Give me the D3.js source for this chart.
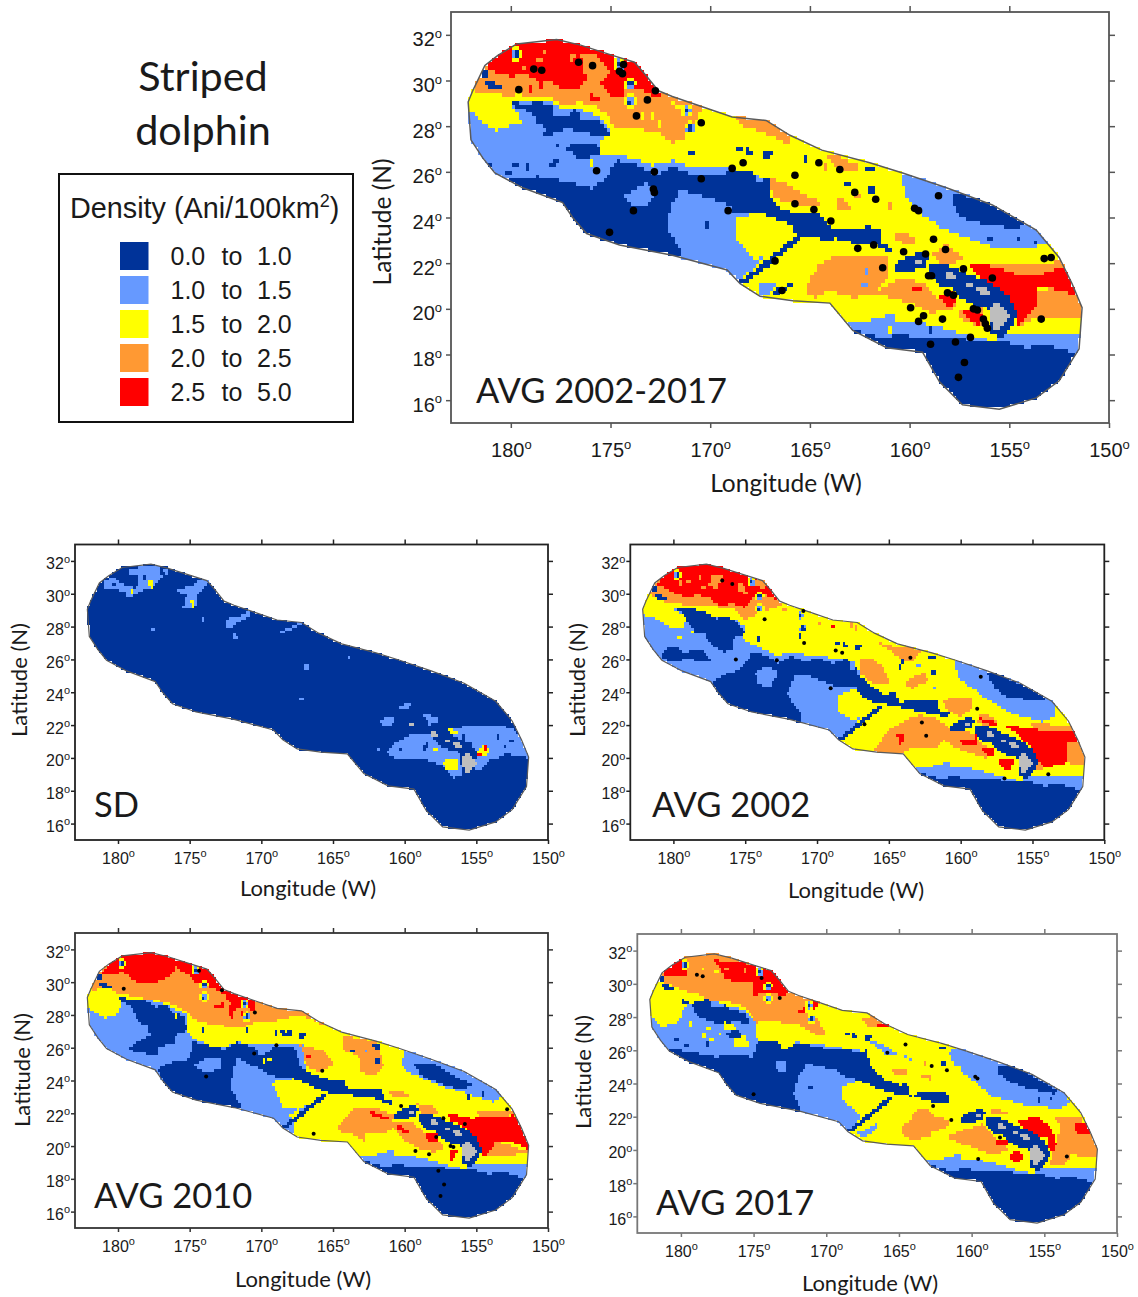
<!DOCTYPE html>
<html>
<head>
<meta charset="utf-8">
<title>Striped dolphin</title>
<script src="https://cdn.jsdelivr.net/npm/d3@7"></script>
<style>
  html, body { margin: 0; padding: 0; background: #fff; }
  svg { display: block; }
  text { fill: #1a1a1a; }
</style>
</head>
<body>
<svg id="chart" width="1138" height="1297"></svg>
<script>
// legend
const legendFrom = ["0.0", "1.0", "1.5", "2.0", "2.5"];
const legendTo = ["1.0", "1.5", "2.0", "2.5", "5.0"];
const classColors = ["#003399", "#6699ff", "#ffff00", "#ff9933", "#ff0000", "#bebebe"];
const DARK = 0, LIGHT = 1, YELLOW = 2, ORANGE = 3, RED = 4, GREY = 5;

const lonTicks = [180, 175, 170, 165, 160, 155, 150];
const latTicks = [32, 30, 28, 26, 24, 22, 20, 18, 16];

// survey area outline, [lon W, lat N]
const studyArea = [[182.14,29.06],[181.9,29.57],[181.3,30.66],[180.65,31.1],[179.7,31.6],[177.7,31.8],[176.5,31.55],[174.9,31.1],[173.8,30.8],[173.2,30.2],[172.6,29.55],[171.9,29.3],[170.4,28.85],[168.9,28.4],[167.2,28.25],[166,27.6],[164.4,26.95],[162,26.4],[160.35,25.95],[158.15,25.3],[155.85,24.55],[153.65,23.45],[152.5,22.25],[151.85,21.1],[151.35,20.05],[151.5,18.25],[152.5,16.85],[153.65,16.1],[155.5,15.6],[157.35,15.8],[158.5,16.8],[159.35,18.1],[161.15,18.3],[162.85,19.05],[164,20.25],[165.85,20.35],[167.5,20.55],[168.5,21.1],[169.15,21.7],[171.9,22.35],[174.55,22.8],[176.2,23.3],[176.9,24],[177.4,24.65],[179.4,25.3],[180.8,25.95],[181.4,26.6],[182,27.4]];

// islands
const islands = [
  [[159.7,22.1],[159.3,22.2],[159.3,21.9],[159.65,21.9]],
  [[158.2,21.6],[157.8,21.6],[157.7,21.3],[158.05,21.25]],
  [[157.3,21.15],[156.8,21.15],[156.8,21],[157.2,21]],
  [[156.75,20.9],[156.3,21],[156,20.7],[156.5,20.65]],
  [[156,20],[155.55,20.3],[154.9,19.7],[155.55,19.15],[155.7,19],[155.9,19.45]]
];

// zones the four mean maps have in common
const southLight = [[163.35,19.5],[162,19.5],[160.8,19.8],[160.65,19.5],[159.65,19.45],[158.5,19.2],[157.65,19],[156.8,18.75],[155.8,18.6],[155.3,18.85],[154.3,18.9],[153,18.9],[150.8,18.9],[150.8,16.7],[163.35,16.7]];
const southDark = [[163,19.2],[162.5,19],[161.35,18.75],[160.5,18.9],[159.15,18.7],[157.65,18.75],[156.8,18.6],[155.45,18.6],[154.15,18.3],[152.95,18.4],[151.95,18.1],[150.8,18.2],[150.8,15],[161,15],[163,17.9]];
const channelDark = [[159,22],[158.3,22],[157.15,21.55],[155.8,21.05],[155.05,20.6],[154.55,19.7],[155.3,18.75],[156,18.9],[156.05,20],[156.8,20.2],[157.4,20.45],[157.8,20.9],[158.5,20.9],[159,21.55]];
const kauaiDark = [[160.8,21.85],[160.15,22.3],[159.3,22.5],[159,22.3],[159.25,21.85],[159.9,21.65],[160.5,21.55]];
const diagonalDark = [[168.5,21.2],[165.6,23.25],[165.35,23.12],[168.2,21.1]];
const seamounts = [[179.7,31.15],[174.55,30.7],[174,29.85],[174,29.1],[171.15,28.7],[171,27.9]];
const darkPatches = [
  [[181.3,29.9],[180.8,29.95],[180.45,29.65],[181,29.55]],
  [[181.45,30.45],[181.2,30.45],[181.2,30.2],[181.45,30.2]],
  [[168.75,27.05],[168.4,27.1],[168.4,26.85],[168.75,26.85]],
  [[168.2,27],[167.8,26.95],[167.8,26.75],[168.2,26.75]],
  [[167.5,26.9],[166.8,26.95],[167,26.6],[167.3,26.6]],
  [[162.3,26.3],[161.7,26.1],[162,26],[162.3,26.15]],
  [[162.1,25.35],[161.7,25.3],[161.7,25],[162.1,25.05]]
];

// AVG 2002-2017
const avgLight = [
  [[182.5,28.9],[181.9,28.6],[181.4,28.1],[180.7,27.8],[180,28.05],[179.5,28.1],[179.55,28.55],[180.05,29],[179.55,29.05],[178.2,29.15],[177.55,28.85],[176.55,28.75],[175.7,28.45],[175.05,27.95],[174.9,27.6],[175.6,27.4],[175.4,26.65],[174.55,26.75],[173.55,26.5],[172.9,26.3],[171.9,26.5],[171,26.2],[169.55,26.15],[168.9,26.2],[167.5,25.8],[167.25,25.05],[167.5,24.15],[168.8,24],[168.8,23.15],[167.7,22.1],[167.1,22.4],[168.55,21.2],[168.9,20.7],[170,20],[184,20]],
  [[167.6,21],[166.9,21.2],[166.6,21],[167.4,20.5]],
  [[160.4,25.85],[160.25,25.05],[159.5,24.2],[158.5,23.6],[157.15,23.1],[155.8,22.7],[154.15,22.65],[153.15,22.8],[152.8,24],[155.8,26.05],[159.65,26.65]]
];
const avgDark = [
  [[179.9,29.05],[179.2,29],[178.55,29.05],[177.95,28.85],[177.9,28.5],[177.05,28.5],[176.85,28.75],[176.45,28.6],[176.5,28.3],[176.2,28.25],[175.6,28.25],[175.2,27.9],[174.9,27.6],[175.35,27.5],[176.2,27.7],[177.2,27.9],[177.8,27.75],[178.05,27.5],[178.55,27.6],[178.2,27.9],[178.8,28.25],[178.9,28.6],[179.65,28.75]],
  [[177.45,27],[176.55,27.3],[176.1,27.25],[175.7,27.25],[175.35,26.65],[175.8,26.7],[176.2,26.55],[176.7,26.6],[176.95,26.95]],
  [[180.65,25.8],[179.9,25.75],[178.7,25.8],[177.9,25.7],[177.2,25.55],[175.9,25.25],[175.2,25.8],[174.7,26.5],[173.55,26.3],[172.7,25.85],[171.9,26.3],[171,25.9],[170,25.85],[168.9,26],[167.85,26.05],[167.5,25.2],[167.4,25.85],[167.1,25.65],[167.1,25],[166.5,24.4],[165.3,24.1],[164.5,24.2],[164.1,23.65],[163.75,23.45],[162.85,23.45],[162,23.65],[161.5,23.45],[161.35,22.8],[160.75,22.6],[161.15,22.5],[161.8,22.8],[162.5,22.8],[163.65,23.1],[164,23.05],[165,23.1],[165.6,23.2],[166,23.7],[167.2,24.1],[168.8,24.1],[169,24.5],[170.2,24.9],[171.5,25.2],[171.95,24.5],[172.2,23.6],[171.5,22.6],[171.5,21.5],[175,21.5],[182,24],[181.2,25.75]],
  [[158,25.1],[157.3,25],[155.8,24.55],[154.15,23.75],[154.65,23.5],[155.8,23.65],[156.85,23.8],[157.65,24.2],[157.8,24.75]],
  [[166.9,20.75],[165.9,21.15],[165.9,21],[166.8,20.55]]
];
const avgLightOnDark = [[[174.3,25.0],[173.7,25.2],[173.2,25.6],[172.7,25],[173.2,24.5],[173.9,24.55]]];
const avgOrange = [
  [[182.05,29.55],[181.05,29.5],[180.1,29.3],[179.55,29.4],[178.9,29.2],[178.05,29.3],[177.4,28.9],[176.55,29.05],[175.7,28.85],[175.05,28.4],[174.8,27.9],[173.85,27.9],[172.7,27.75],[171.85,27.3],[171.45,27.4],[170.85,27.9],[170.6,28.5],[170.35,28.85],[170.2,29.2],[170.2,32],[182,32]],
  [[168.8,28.5],[168.45,28],[167.5,27.8],[166,27.2],[166,27.75],[167.1,28.4],[168.8,28.6]],
  [[164.15,26.7],[163.9,26.35],[163.3,26],[162.3,26.2],[163.15,26.5],[164,26.85]],
  [[167.1,25.8],[166.35,25.5],[165.35,25.05],[164.5,24.7],[164.45,24.5],[165.35,24.55],[166.35,24.65],[166.85,24.95]],
  [[163.6,24.85],[163.2,24.75],[162.85,24.4],[163.35,24.3],[163.6,24.45]],
  [[161,23.2],[160.15,23.35],[159.8,23.15],[159.65,22.8],[160.3,22.85]],
  [[158.8,22.4],[158.2,22.8],[157.3,22.3],[157.6,22.05],[158.45,22]],
  [[165.1,21],[164.65,21.85],[163.65,22.4],[162.5,22.25],[161.1,22.25],[161,21.3],[161.35,21.1],[161.8,20.65],[162.85,20.5],[164,20.8],[164.65,20.5],[165.1,20.6]],
  [[161.8,20.65],[160.5,21.3],[159.35,21.15],[158.6,20.5],[157.5,20.15],[158,19.95],[159,19.8],[159.8,20.2],[160.85,20.5]],
  [[153.5,20.8],[152,21],[150.95,20.1],[150.95,19.6],[152.5,19.6],[153.5,19.65],[154.3,19.35],[154.65,19.2]],
  [[156.8,22.05],[154.45,21.9],[153.3,21.9],[152.35,22.15],[152,21.35],[153.3,21.15]],
  [[157.55,19.9],[156.3,20.1],[156.3,19.25],[157.3,19.4]]
];
const avgRed = [
  [[181.15,30.45],[180.05,30.2],[179.2,30.25],[178.55,29.95],[178.15,30],[177.55,29.65],[176.55,29.65],[176.2,30],[175.35,29.85],[175,29.2],[174.8,29.35],[174.3,29.35],[174.3,30],[173.7,29.65],[172.85,29.35],[172.4,29.35],[172.3,30.6],[173.5,32.05],[180.2,32.2],[181.4,31.3]],
  [[157,21.9],[156,21.9],[154.8,21.55],[153.65,21.4],[152.4,21.8],[151.9,21.35],[151.6,20.6],[152.4,20.75],[153.5,21.05],[153.55,20.25],[154.1,19.75],[154.45,19.2],[155,19.95],[155,20.5],[155.85,21.1],[156.65,21.5]],
  [[158.5,20.65],[157.9,20.7],[157.5,20.45],[157.85,20.15],[158.35,20.2]],
  [[157.3,19.85],[156.8,20.05],[156.35,19.7],[156.55,19.3],[156.95,19.5]],
  [[159.95,21],[159.4,21],[159.2,20.9],[159.7,20.75]]
];
const avgOrangeOnRed = [[[176.5,31.2],[175.7,31.1],[175,30.45],[175.35,29.95],[176.2,30]]];
const avgDots = [[179.6,29.6],[178.85,30.5],[178.45,30.45],[176.6,30.8],[175.9,30.65],[174.35,30.7],[174.55,30.4],[174.4,30.3],[172.75,29.55],[173.15,29.15],[173.7,28.45],[170.45,28.15],[175.7,26.05],[172.8,26],[172.85,25.25],[172.8,25.1],[173.85,24.3],[175.05,23.35],[170.45,25.7],[168.9,26.15],[168.35,26.4],[169.1,24.3],[166.75,22.1],[166.4,20.8],[164.55,26.4],[163.5,26.1],[165.75,25.85],[162.75,25.1],[161.7,24.8],[158.55,24.95],[159.75,24.4],[159.55,24.3],[165.75,24.6],[164.8,24.35],[163.95,23.85],[158.8,23.05],[162.6,22.65],[161.8,22.8],[160.3,22.5],[159.2,22.4],[158.2,22.6],[161.35,21.8],[157.3,21.75],[159.05,21.45],[158.9,21.45],[153.25,22.2],[152.9,22.25],[155.85,21.35],[158.1,20.7],[157.8,20.6],[159.95,20.05],[156.8,20],[156.6,19.95],[159.3,19.7],[159.55,19.45],[158.35,19.55],[153.4,19.55],[156.3,19.55],[156.2,19.35],[156.1,19.15],[156.95,18.75],[157.7,18.55],[158.95,18.45],[157.25,17.65],[157.55,17]];
// single cells, [lon, lat, class]
const avgSpecks = [[172.85,28.4,YELLOW],[171.85,29,YELLOW],[171.6,28.85,YELLOW],[173.4,28.4,YELLOW],[172.5,28.1,YELLOW],[178.55,30.9,ORANGE],[176.9,31,ORANGE],[178.3,31.25,ORANGE],[179.3,30.6,ORANGE],[175.65,29.2,RED],[175.95,29.3,RED],[178.55,29.8,RED],[177.6,29.85,RED],[179,29.6,RED],[181,26.35,DARK],[179.8,26.3,DARK],[179.2,26.2,DARK],[177.9,26.35,DARK],[177.7,26.5,DARK],[180.1,25.95,DARK],[177.65,27.15,DARK],[170.95,26.85,DARK],[170.2,23.65,DARK],[175.9,26.4,YELLOW],[164.2,26.2,ORANGE],[165.2,26.6,DARK],[163.1,25.5,DARK],[162.6,24.9,ORANGE],[161,24.5,ORANGE],[160,26,DARK],[162.2,21.6,LIGHT],[162.3,21,LIGHT],[154.5,23.1,DARK],[156,23.1,DARK],[153.7,22.9,DARK],[159,19.1,DARK],[161,19.1,YELLOW]];

// AVG 2002
const y02Light = [
  [[183,28.9],[181.15,28.5],[180.25,27.95],[179.3,28],[179.05,28.6],[180,29.1],[178.7,29.1],[177.2,28.6],[175.7,28.4],[175,28],[175.2,27.2],[174.5,26.95],[172.8,26.25],[171.85,26.45],[170.5,26.25],[168.85,26.1],[167.45,25.9],[167,25.1],[167,24.3],[168.6,23.8],[168.6,22.9],[167.45,22.25],[166.8,22.6],[168.4,21.15],[168.6,20.9],[170,20],[184,20]],
  [[160.4,25.85],[160.2,24.85],[159.15,24.25],[158,23.45],[156.1,22.6],[154.25,22.2],[153.35,22.6],[153.55,23.55],[157.5,26.2],[160.3,26.6]]
];
const y02Dark = [
  [[179.8,29.1],[178.7,29.1],[178,28.95],[177,28.5],[176.3,28.65],[175.6,28.25],[175,27.75],[175.35,27.4],[175.8,27.3],[175.8,26.7],[176.5,26.4],[177.4,26.95],[177.8,27.55],[178.5,27.6],[178.85,28.15],[179.3,28.7]],
  [[180.9,26.2],[180.4,26.75],[179.8,26.75],[179.2,26.35],[178.85,26.55],[177.9,26.55],[177.45,25.95],[178.15,25.85],[179.1,26.15],[179.55,25.85],[180.25,25.85]],
  [[177.3,24.6],[176.3,25.15],[175.6,25.3],[174.9,25.9],[174.55,26.45],[173.5,26.25],[172.65,25.75],[171.85,26.25],[170.95,25.9],[169.75,26.05],[168.85,25.75],[167.9,26.1],[167.5,25.05],[167.35,25.95],[167.15,25.05],[166.1,24.3],[165.3,23.85],[164.6,24.05],[164.1,23.15],[163.9,23.55],[161.7,23.55],[161.45,22.85],[160.75,22.75],[161,22.5],[161.7,22.6],[162.85,22.8],[163.9,23.05],[165.2,23.25],[166.1,23.4],[167.15,23.95],[167.2,24.3],[168.85,24.4],[170.45,24.95],[171.5,25],[172.1,23.9],[171.15,22.7],[170.9,21],[172,20],[176,22.5]],
  [[158.2,25.35],[157.3,25.05],[155.2,24.25],[153.8,23.45],[154.7,23.45],[156.8,23.75],[157.6,24.25],[158,24.85]]
];
const y02LightOnDark = [[[174.3,25.15],[173.5,25.65],[172.65,25.25],[173.25,24.3],[174.05,24.5]]];
const y02Orange = [
  [[181.6,29.9],[180.45,29.5],[178.85,29.3],[177.45,29.25],[175.8,29.1],[175,28.4],[173.95,28.9],[173,29.1],[172.3,29.4],[172,32],[182,32],[182,30]],
  [[167,26.05],[166.2,26.05],[165.3,25.45],[164.95,24.55],[166,24.45],[167.05,25.15]],
  [[165.9,27.1],[164.7,26.8],[163.55,26.7],[162.75,26.5],[163.55,25.8],[164.6,26.3]],
  [[163.65,24.85],[162.4,25.25],[162.3,24.65],[163.35,24.25],[163.8,24.35]],
  [[161.25,23.45],[160.3,23.75],[159.15,23.65],[159.15,23.05],[160.05,22.5],[161,23]],
  [[158.65,22.7],[157.75,22.5],[157.4,22.1],[158.2,21.9],[158.8,22.2]],
  [[166.1,20.3],[165.05,21.7],[163.55,22.4],[162.75,22.6],[161.7,22.4],[160.9,22],[160.65,21.6],[159.4,21.6],[158.5,20.9],[157.6,20.2],[158.3,20],[159.45,20.3],[160.55,20.7],[161.1,21.1],[161.7,20.6],[163.35,20.7],[164.05,20.3]],
  [[154.7,21.3],[152.15,21.6],[151.35,20.1],[151.35,19.6],[152.85,19.7],[154,19.4],[154.7,19.2]],
  [[155.2,22.2],[152.15,21.9],[152.15,21.6],[154.7,21.7]]
];
const y02Red = [
  [[181.1,30.55],[180.25,30.2],[179.3,29.8],[178.25,29.9],[177.45,29.7],[176.85,29.3],[175.8,29.4],[175,29.1],[174.55,29.7],[173.5,29.9],[172.8,29.65],[172.65,30.8],[174.2,32],[180.2,32]],
  [[156.95,22],[155.3,21.8],[153.75,21.6],[151.9,21.7],[151.7,20.9],[152.5,21],[152.6,19.7],[154.25,19.4],[154.7,20],[155.15,20.7],[156.1,21.5]],
  [[164.4,21.4],[163.9,21.4],[164.15,20.6]],
  [[160.05,21.1],[159.1,21.2],[158.8,21.6],[158.9,20.8],[159.85,20.8]],
  [[158.55,20.7],[157.65,20.6],[157.65,20.1],[158.3,20.2]],
  [[157.4,19.9],[156.35,20],[156.45,19.2],[157.05,19.3]],
  [[158.65,22.4],[157.75,22.3],[157.5,22],[158.45,22.1]]
];
const y02OrangeOnRed = [[[177.3,31.2],[176.6,31.1],[176.9,30.3],[177.5,30.5]], [[175.6,30.7],[175,30.5],[174.9,30],[175.5,30.1]], [[174.2,31],[173.5,30.7],[173.7,30.2],[174.3,30.5]]];
const y02Dots = [[176.6,30.8],[175.9,30.6],[173.65,28.45],[170.95,28.95],[170.9,27],[168.25,26.4],[168.7,26.55],[175.65,26],[172.8,25.95],[169.05,24.25],[166.7,22.05],[163.5,26.1],[158.6,24.95],[158.85,23],[162.7,22.15],[162.4,21.35],[156.95,18.75],[153.9,19]];
const y02Specks = [[178.9,30.7,ORANGE],[178.2,31,ORANGE],[179.5,30.6,ORANGE],[177.9,30.4,ORANGE],[172.9,29,YELLOW],[171.6,28.9,YELLOW],[172.3,29,ORANGE],[169.8,28.2,ORANGE],[168.9,28,RED],[167.6,28.1,ORANGE],[167.3,27.9,ORANGE],[178.7,27.7,YELLOW],[179.6,27.3,YELLOW],[174.1,27.2,DARK],[170.9,27.8,DARK],[171.2,27.4,DARK],[164.2,25.5,DARK],[164,25.9,DARK],[162.9,25.6,LIGHT],[161.8,24.3,LIGHT]];

// AVG 2010
const y10Light = [
  [[183,28.9],[180.95,27.8],[180,28.05],[179.7,28.95],[178,29],[176.6,28.6],[175.2,28.05],[175.3,27.15],[174.75,26.55],[172.9,25.9],[171.75,26.35],[170.45,26.15],[169,26.25],[167.8,26.15],[167.1,26.15],[166.8,24.2],[168.95,24],[169.2,23.7],[168.45,22.35],[167.05,22.15],[166.65,22.55],[168,21.9],[167.7,21.5],[167.6,20.3],[171,20],[184,20]],
  [[160.3,25.05],[160.05,25.6],[160.3,26.6],[155,26],[153.15,23],[153.85,22.7],[155.7,23.2],[157.5,23.7],[158.9,24.2],[160.05,24.65]]
];
const y10Dark = [
  [[180,29.05],[178.95,29],[178,28.85],[177.3,28.45],[176.75,28.7],[176.15,28.15],[175.35,27.85],[175.2,27.05],[175.9,26.85],[176.15,26.2],[177.1,26.1],[177.3,25.5],[178.5,25.7],[179.3,25.9],[178.5,26.45],[177.8,26.75],[177.9,27.35],[178.6,27.55],[179.05,28.55],[179.65,28.75]],
  [[177.2,24.6],[176.6,25.1],[175.2,25.15],[174.85,25.8],[174.75,26.35],[172.9,26],[172.65,25.9],[171.75,26.35],[170.35,26],[170.1,25.4],[169,26.1],[167.8,26.1],[167.7,25.4],[167.55,26.1],[167.5,25.95],[167.4,24.9],[166.35,24.35],[165.2,24.05],[164.25,24.05],[163.9,23.5],[161.7,23.55],[161.35,22.8],[160.75,22.7],[161,22.5],[161.7,22.8],[162.6,23],[163.9,23.1],[165.2,23.2],[166.6,23.7],[167.75,24.1],[168.95,24.2],[169.9,24.6],[171.7,25.4],[172.2,23.55],[171.45,22.55],[171.45,21.4],[173,21],[176,22.5]],
  [[159.4,25],[158,25],[155.95,24],[155.2,23.8],[156.1,23.4],[157.05,23.7],[158.2,24],[158.9,24.35]]
];
const y10LightOnDark = [[[174.6,25],[173.8,25.4],[172.7,25.4],[172.8,24.7],[173.8,24.5],[174.6,24.8]]];
const y10Orange = [
  [[181.85,29.5],[180.6,29.6],[179.9,29.3],[178,29],[176.65,28.8],[175.25,28.25],[174.55,27.65],[173.15,27.35],[171.3,27.25],[170.45,27.55],[169,27.65],[167.2,28],[165.7,27.4],[165.5,28.5],[172,32],[182,32],[182,30]],
  [[167.3,26.15],[165.65,25.85],[164.85,25.05],[165.75,24.5],[166.7,24.7]],
  [[164.25,26.75],[161.95,26.35],[161.4,24.85],[162.2,24.25],[163.05,24.55],[163.2,25.45],[164.25,25.85]],
  [[161.25,23.3],[160.55,23.4],[159.5,23.1],[160.55,22.9]],
  [[159.15,22.6],[158,22.4],[157.7,22],[158.85,22]],
  [[164.85,20.9],[163.55,22.3],[161.9,22.3],[160.75,21.9],[160.9,21.4],[159.4,21.4],[158.45,20.7],[157.15,19.95],[157.85,19.65],[158.9,19.75],[160.1,20.4],[160.75,21.1],[161.45,20.8],[162.65,20.8],[162.85,20.3],[163.8,20.8]],
  [[154.7,19.4],[153.6,20.3],[151.35,19.65],[152.6,19.45]],
  [[155,22.1],[152.5,22.2],[152.3,21.9],[154.7,21.8]]
];
const y10Red = [
  [[181.25,30.4],[179.65,30.6],[178.6,29.9],[177.3,30],[176.5,30.3],[175.95,30.9],[175.25,30.5],[174.55,30],[173.6,29.7],[172.65,29.3],[172.2,28.7],[172.4,28.1],[172,27.8],[171.85,28.35],[171.3,28.55],[170.35,28.2],[170.4,29],[172,32],[180,32]],
  [[173.3,28.6],[172.7,28.7],[172.7,28.45],[173.3,28.35]],
  [[156.95,22],[155.45,21.7],[153.6,21.8],[152.4,21.9],[151.6,20.9],[151.3,19.75],[152.65,20.3],[153.6,20.3],[154,19.75],[154.5,19.35],[155,20.4],[155.6,21],[156.85,21.6]],
  [[162.5,22.2],[161,21.7],[161.5,21.6],[162.3,21.9]],
  [[160.4,21.3],[159.6,20.8],[160.1,20.8],[160.6,21.1]],
  [[158.5,20.7],[157.6,20.8],[157.7,20.3],[158.4,20.3]],
  [[156.9,19.75],[156.3,19.85],[156.6,19.1],[156.85,19.1]]
];
const y10Dots = [[179.6,29.6],[174.35,30.7],[172.75,29.5],[170.45,28.15],[168.95,26.15],[170.5,25.65],[173.85,24.25],[165.75,24.6],[166.35,20.75],[160.25,22.45],[157.3,21.7],[155.8,21.35],[152.85,22.25],[157.8,20.55],[156.8,20],[156.6,19.95],[159.25,19.7],[158.3,19.5],[157.65,18.5],[157.25,17.65],[157.5,16.95]];
const y10Specks = [[172.6,29.2,ORANGE],[171.3,28.1,RED],[169.4,25.3,YELLOW],[169.8,25.2,YELLOW],[166.7,25.4,RED],[178,29.1,ORANGE],[175.9,27.9,YELLOW],[174.1,27.1,DARK],[171,27.05,DARK],[169,26.9,DARK],[168.4,26.8,DARK],[167.9,26.9,DARK],[163.6,25.8,DARK],[162.7,25.8,LIGHT],[161.9,26,DARK],[158,25,DARK],[154.5,23.2,DARK],[155.5,23,DARK]];

// AVG 2017
const y17Light = [
  [[184,28.3],[182,28],[181.35,27.4],[180.05,27.7],[180,28.2],[179.6,28.7],[178,29.1],[176.9,28.7],[175.5,28.4],[174.8,27.7],[174.8,26.9],[174.6,26.4],[172.95,26],[172,26.5],[169.95,26.3],[167.2,25.9],[167.05,24.4],[168.9,23.8],[168.9,23],[168,22.4],[167.6,22],[168.2,21.2],[168.4,20.9],[170,20],[184,20]],
  [[161.55,25.9],[161.1,25],[159.9,24.2],[158.55,23.2],[156.3,22.7],[154,22.5],[153.25,22.8],[153.7,23.6],[157.6,25.6],[160.3,26.6]],
  [[167.35,26.6],[166.1,26.4],[165.2,25.8],[163.8,25.3],[164.7,25.7],[165.85,25.7],[166.8,26.4]],
  [[167.9,21],[167.2,21.3],[166.5,21.6],[166.6,21.2],[167.5,20.7]]
];
const y17Dark = [
  [[180,29.1],[179.4,28.8],[178,29.1],[177.9,28.6],[176.9,28.7],[176.65,28.4],[175.5,28.3],[175.4,27.6],[176.2,27.7],[177.55,27.55],[178.1,27.8],[178.8,28],[179.25,28.7],[179.85,28.8]],
  [[177,27.05],[176.2,27.25],[175.75,26.8],[176.65,26.7]],
  [[180.75,26.1],[179.85,25.95],[177.55,25.6],[176.65,25.7],[175,25.6],[174.7,26.5],[173.4,26.5],[172.95,26],[172,26.45],[170,26.1],[168.9,26.05],[167.4,25.85],[167.35,26.2],[166.9,25],[166.1,24.3],[164.85,23.9],[164.5,24.1],[164.15,23.1],[163.8,23.5],[161.75,23.5],[161.5,22.8],[162.45,22.8],[163.95,23.2],[165.2,23.4],[166.55,23.7],[167.7,24.2],[169,24.5],[169.3,24.8],[171.3,25.2],[171.9,24.4],[172.25,23.4],[171.8,22.6],[171.8,21.2],[174,21],[177,22],[181.5,25],[181.5,26]],
  [[158.25,25.1],[157.1,25.1],[155.35,24.2],[154,23.5],[154.4,23.4],[156.2,23.7],[157.55,24.2],[158.1,24.6]]
];
const y17LightOnDark = [[[173.55,25.3],[172.8,25.35],[172.8,24.75],[173.35,24.75]]];
const y17Yellow = [
  [[177.1,27.7],[176.4,27.6],[176.2,27.25],[177.1,27.2]],
  [[176.4,26.7],[175.5,26.9],[175.4,26.3],[176.4,26.2]]
];
const y17Orange = [
  [[181.45,30.2],[180.75,29.9],[179.85,29.6],[178.9,29.4],[178,29],[176.65,28.9],[175.5,28.55],[174.8,27.65],[173.9,27.75],[171.85,27.5],[170.4,26.8],[170,27],[170.6,27.85],[171.55,28.3],[170.5,28.8],[170.4,29.5],[172,32],[182,32],[182,30.5]],
  [[167.55,27.8],[166.55,28.2],[165.65,27.5],[167,27.4]],
  [[165.5,24.8],[164.6,24.9],[164.4,24.5],[165.2,24.5]],
  [[163.45,24.6],[162.65,24.5],[162.85,24.25],[163.45,24.35]],
  [[164.85,21.3],[164.25,21.8],[163.8,22.4],[162.9,22.4],[162.55,22],[161.5,21.8],[161.75,21.3],[162.65,21.1],[162.9,20.8],[164,20.6],[164.7,20.8]],
  [[161.8,20.8],[160.9,21.1],[159.2,21.6],[158.5,20.8],[157.5,20],[158.5,19.7],[159.45,20],[160.8,20.4]],
  [[158.65,22.5],[157.5,22.3],[157.5,22.1],[158.6,22.1]],
  [[154.7,19],[154.15,20.4],[153.9,21.4],[154.35,22],[152.5,22],[151.6,20.6],[151.3,20],[151.4,19.6],[153.2,19.7],[153.45,19.2]]
];
const y17Red = [
  [[181.3,30.75],[180.05,31.45],[179.75,31.3],[179.5,30.6],[180.3,30.4],[181,30.5]],
  [[177.75,31.5],[176.85,31.3],[174.85,31.2],[173.9,30.9],[172.5,29.5],[172.95,29.3],[174.05,29.5],[175,29.3],[175.1,30.1],[176.15,30.1],[177.05,30.4],[177.45,31.2]],
  [[171.95,28.3],[171.3,28.75],[170.5,29],[170.75,28.5],[171.55,28.3]],
  [[166.5,27.55],[165.65,27.6],[165.65,27.4],[166.5,27.4]],
  [[156.9,21.7],[155.55,22],[154.85,21.6],[154.4,21.1],[154.15,20.4],[154.35,19.9],[154.7,20.1],[154.85,20.7],[156.2,21.1]],
  [[152.9,21.6],[152,21.6],[151.9,21],[152.8,20.9]],
  [[158.5,20.5],[157.55,20.7],[157.5,20.3],[158.25,20.2]],
  [[157.35,19.8],[156.8,20],[156.35,19.6],[156.8,19.1],[157.25,19.4]]
];
const y17Dots = [[178.9,30.55],[178.5,30.45],[174.45,30.35],[173.2,29.15],[175,23.35],[164.55,26.35],[165.8,25.85],[162.75,25.05],[161.7,24.8],[159.75,24.4],[159.6,24.3],[162.65,22.65],[161.4,21.8],[158.05,20.75],[159.55,19.45],[153.45,19.6]];
const y17Specks = [[179.3,27.6,YELLOW],[178.1,27.3,YELLOW],[178.4,26.9,YELLOW],[177.9,26.7,YELLOW],[177.3,27,YELLOW],[178.2,26.4,DARK],[180.3,26.6,DARK],[179.6,26.3,DARK],[175.8,24.4,DARK],[171.1,23.8,DARK],[178.5,30.9,YELLOW],[177.6,30.7,YELLOW],[176.9,30.9,ORANGE],[175.6,30.8,ORANGE],[163.2,25.2,ORANGE],[161.3,25,YELLOW],[160.9,24.9,YELLOW],[154.5,23.1,DARK],[155.4,23,DARK]];

// SD
const sdLight = [
  [[181,30.8],[180.3,31],[179.6,30.55],[178.9,30.45],[179.3,30.1],[180.1,30.25],[180.9,30.35]],
  [[179.3,31.5],[178.3,31.6],[177.7,31.75],[176.4,31.35],[177,31],[177.6,30.4],[178.3,30.2],[179.3,29.7],[179.5,29.95],[178.5,30.6],[178.7,31.2],[179.3,31.2]],
  [[175.9,30.3],[174.9,30.45],[174,31],[173.7,30.7],[174.4,30],[174.6,29.3],[175,29.1],[175.5,29.1],[175.2,29.9],[175.9,30.15]],
  [[172.5,28.5],[171.6,28.6],[170.9,28.95],[170.7,28.7],[171.5,28.3],[172.2,27.9],[172.5,28]],
  [[168.7,27.65],[167.5,28.2],[167.1,28.25],[168.1,27.75],[168.7,27.55]],
  [[161.3,20.25],[160.4,21.1],[159.3,21.5],[158.1,21.4],[157.6,20.7],[156.2,20.3],[155.9,19],[156.6,18.8],[157.3,19.5],[158.3,19.85],[160.4,19.85]],
  [[156.9,21.8],[155.9,21.9],[153.5,22.05],[152.3,21.7],[151.6,20.7],[151.3,20],[152.3,20.05],[153,20.35],[153.3,20.05],[154,19.9],[154.7,19.25],[155.3,19.4],[154.9,20.2],[155.4,20.9],[156.3,21.2],[156.9,21.5]],
  [[161.9,22.3],[160.7,22.5],[160.9,21.9],[161.5,21.9]],
  [[158.7,22.7],[157.4,22.3],[158.3,22]],
  [[160.5,23.2],[159.5,23.3],[159.5,23.1],[160.4,23]]
];
const sdYellow = [
  [[157.3,19.8],[156.4,20],[156.3,19.3],[156.8,19.15],[157.2,19.4]],
  [[155,20.4],[154.3,20.9],[154,20.25],[154.9,20.05]]
];
// [lon, lat, class]
const sdSpecks = [[158.4,20.8,DARK],[158.6,20.6,DARK],[155.9,21.3,DARK],[153.5,21.3,DARK],[152.6,21,DARK],[153,20.7,DARK],[179.3,30.9,DARK],[178.2,31,DARK],[180.3,30.6,DARK],[176.9,31.3,DARK],[156.8,21.65,YELLOW],[156.5,21.5,YELLOW],[157.8,20.5,YELLOW],[177.7,30.5,YELLOW],[177.7,30.7,YELLOW],[174.8,29.5,YELLOW],[174.8,29.3,YELLOW],[179,30.1,YELLOW],[154.75,20.2,RED],[154.4,20.6,RED],[163.9,26.1,LIGHT],[166.85,25.55,LIGHT],[167.15,23.6,LIGHT],[169.8,29,LIGHT],[171.8,27.4,LIGHT],[174.1,28.4,LIGHT],[160.3,20.5,DARK],[161.8,20.5,LIGHT],[177.6,27.8,LIGHT]];

// panel frames in page pixels
const panels = [
  { label: "AVG 2002-2017", frame: [451, 12, 1109, 423], big: true, frameColor: "#555", labelPos: [476, 403],
    lonTitle: [786, 492], latTitle: [384, 222],
    light: avgLight, lightOn: avgLightOnDark, dark: avgDark, yellow: [], orange: avgOrange, red: avgRed, orangeOn: avgOrangeOnRed, specks: avgSpecks, dots: avgDots },
  { label: "SD", frame: [75, 544.5, 548, 840], frameColor: "#222", labelPos: [94, 817],
    lonTitle: [308, 896], latTitle: [20, 680], sd: true, specks: sdSpecks, dots: [] },
  { label: "AVG 2002", frame: [630.3, 544.5, 1104.3, 840], frameColor: "#222", labelPos: [652, 817],
    lonTitle: [856, 898], latTitle: [578, 680],
    light: y02Light, lightOn: y02LightOnDark, dark: y02Dark, yellow: [], orange: y02Orange, red: y02Red, orangeOn: y02OrangeOnRed, specks: y02Specks, dots: y02Dots },
  { label: "AVG 2010", frame: [75, 933, 548, 1228], frameColor: "#333", labelPos: [94, 1208],
    lonTitle: [303, 1287], latTitle: [23, 1070],
    light: y10Light, lightOn: y10LightOnDark, dark: y10Dark, yellow: [], orange: y10Orange, red: y10Red, orangeOn: [], specks: y10Specks, dots: y10Dots },
  { label: "AVG 2017", frame: [637.3, 934, 1117, 1233], frameColor: "#777", labelPos: [656, 1215],
    lonTitle: [870, 1291], latTitle: [584, 1072],
    light: y17Light, lightOn: y17LightOnDark, dark: y17Dark, yellow: y17Yellow, orange: y17Orange, red: y17Red, orangeOn: [], specks: y17Specks, dots: y17Dots }
];

const cellSize = 0.17; // grid of the model output, degrees
const svg = d3.select("#chart");
const titleFont = "Lato, 'Open Sans', sans-serif";
const tickFont = "'Liberation Sans', Arial, sans-serif";

// build the paint order of a panel, later entries win
function buildLayers(p) {
  const layers = [];
  const addPolys = (polys, cls) => polys.forEach((poly) => layers.push({ poly, cls }));
  const addSpot = (lon, lat, r, cls) => layers.push({ spot: [lon, lat, r], cls });
  if (p.sd) {
    addPolys(sdLight, LIGHT);
    addPolys(sdYellow, YELLOW);
  } else {
    addPolys(p.light, LIGHT);
    addPolys(p.dark, DARK);
    addPolys(p.lightOn, LIGHT);
    addPolys(p.yellow, YELLOW);
    addPolys(p.orange, ORANGE);
    addPolys(p.red, RED);
    addPolys(p.orangeOn, ORANGE);
    addPolys([southLight], LIGHT);
    addPolys([southDark], DARK);
    addPolys([channelDark, kauaiDark, diagonalDark], DARK);
    addPolys(darkPatches, DARK);
    seamounts.forEach((s) => {
      addSpot(s[0], s[1], 0.3, YELLOW);
      addSpot(s[0], s[1], 0.2, LIGHT);
      addSpot(s[0], s[1], 0.12, DARK);
    });
  }
  p.specks.forEach((s) => addSpot(s[0], s[1], 0.13, s[2]));
  addPolys(islands, GREY);
  return layers;
}

function classAt(pt, layers, base) {
  for (let i = layers.length - 1; i >= 0; i--) {
    const l = layers[i];
    if (l.poly) {
      if (d3.polygonContains(l.poly, pt)) return l.cls;
    } else {
      const dx = pt[0] - l.spot[0], dy = pt[1] - l.spot[1];
      if (dx * dx + dy * dy <= l.spot[2] * l.spot[2]) return l.cls;
    }
  }
  return base;
}

function drawPanel(p) {
  const [x0, y0, x1, y1] = p.frame;
  const x = d3.scaleLinear().domain([183, 150]).range([x0, x1]);
  const y = d3.scaleLinear().domain([15, 33]).range([y1, y0]);
  const g = svg.append("g");

  // density cells, merged along each row into one path per class
  const layers = buildLayers(p);
  const base = p.sd ? DARK : YELLOW;
  const paths = classColors.map(() => d3.path());
  for (let lat = 15; lat < 33; lat += cellSize) {
    let runStart = null, runCls = null;
    for (let lon = 183; lon > 150 - cellSize; lon -= cellSize) {
      const c = [lon - cellSize / 2, lat + cellSize / 2];
      const cls = lon > 150 && d3.polygonContains(studyArea, c) ? classAt(c, layers, base) : null;
      if (cls !== runCls) {
        if (runCls !== null) {
          paths[runCls].rect(x(runStart), y(lat + cellSize), x(lon) - x(runStart), y(lat) - y(lat + cellSize));
        }
        runStart = lon;
        runCls = cls;
      }
    }
  }
  const map = g.append("g").style("filter", "blur(0.35px)");
  map.selectAll("path.cells")
    .data(classColors)
    .enter()
    .append("path")
    .attr("class", "cells")
    .attr("fill", (d) => d)
    .attr("shape-rendering", "crispEdges")
    .attr("d", (d, i) => paths[i].toString());

  // outline
  const line = d3.line().x((d) => x(d[0])).y((d) => y(d[1])).curve(d3.curveLinearClosed);
  map.append("path")
    .attr("d", line(studyArea))
    .attr("fill", "none")
    .attr("stroke", "#5a5a5a")
    .attr("stroke-width", p.big ? 1.5 : 1.2);

  // sightings
  map.selectAll("circle")
    .data(p.dots)
    .enter()
    .append("circle")
    .attr("cx", (d) => x(d[0]))
    .attr("cy", (d) => y(d[1]))
    .attr("r", p.big ? 3.8 : 2)
    .attr("fill", "#000");

  // frame and axes
  const tickSize = p.big ? 5 : 4;
  const numSize = p.big ? 20 : 16;
  const degSize = p.big ? 13 : 11;
  const setLabels = (sel, xPos, yPos, anchor) => {
    sel.selectAll(".tick text").each(function (d) {
      const t = d3.select(this);
      t.text(null).attr("x", xPos).attr("y", yPos).attr("dy", 0)
        .attr("text-anchor", anchor)
        .attr("font-family", tickFont)
        .attr("font-size", numSize);
      t.append("tspan").text(d);
      t.append("tspan").attr("font-size", degSize).attr("dy", -numSize * 0.42).text("o");
    });
  };
  const styleAxis = (sel) => {
    sel.select(".domain").remove();
    sel.selectAll(".tick line").attr("stroke", p.frameColor).attr("stroke-width", 1.5);
  };

  g.append("g").attr("transform", `translate(0,${y1})`)
    .call(d3.axisBottom(x).tickValues(lonTicks).tickSize(tickSize))
    .call(styleAxis)
    .call(setLabels, 0, p.big ? 34 : 24, "middle");
  g.append("g").attr("transform", `translate(${x0},0)`)
    .call(d3.axisLeft(y).tickValues(latTicks).tickSize(tickSize))
    .call(styleAxis)
    .call(setLabels, p.big ? -9 : -5, p.big ? 11 : 8, "end");
  g.append("g").attr("transform", `translate(0,${y0})`)
    .call(d3.axisTop(x).tickValues(lonTicks.slice(0, 6)).tickSize(tickSize + 1).tickFormat(""))
    .call(styleAxis);
  g.append("g").attr("transform", `translate(${x1},0)`)
    .call(d3.axisRight(y).tickValues(latTicks).tickSize(tickSize + 1).tickFormat(""))
    .call(styleAxis);
  g.append("rect")
    .attr("x", x0).attr("y", y0)
    .attr("width", x1 - x0).attr("height", y1 - y0)
    .attr("fill", "none")
    .attr("stroke", p.frameColor)
    .attr("stroke-width", 1.8);

  // titles
  const axisTitleSize = p.big ? 24.5 : 22;
  g.append("text")
    .attr("x", p.lonTitle[0]).attr("y", p.lonTitle[1])
    .attr("text-anchor", "middle")
    .attr("font-family", titleFont)
    .attr("font-size", axisTitleSize)
    .text("Longitude (W)");
  g.append("text")
    .attr("transform", `translate(${p.latTitle[0] + 7},${p.latTitle[1]}) rotate(-90)`)
    .attr("text-anchor", "middle")
    .attr("font-family", titleFont)
    .attr("font-size", axisTitleSize)
    .text("Latitude (N)");
  g.append("text")
    .attr("x", p.labelPos[0]).attr("y", p.labelPos[1])
    .attr("font-family", titleFont)
    .attr("font-size", 34.5)
    .text(p.label);
}

panels.forEach(drawPanel);

// species title
svg.selectAll("text.species")
  .data(["Striped", "dolphin"])
  .enter()
  .append("text")
  .attr("class", "species")
  .attr("x", 203)
  .attr("y", (d, i) => 91 + i * 54)
  .attr("text-anchor", "middle")
  .attr("font-family", titleFont)
  .attr("font-size", 41.4)
  .text((d) => d);

// legend box
const legend = svg.append("g");
legend.append("rect")
  .attr("x", 59).attr("y", 174)
  .attr("width", 294).attr("height", 248)
  .attr("fill", "#fff")
  .attr("stroke", "#111")
  .attr("stroke-width", 2);
const legendTitle = legend.append("text")
  .attr("x", 70).attr("y", 218)
  .attr("font-family", tickFont)
  .attr("font-size", 28.8);
legendTitle.append("tspan").text("Density (Ani/100km");
legendTitle.append("tspan").attr("font-size", 18).attr("dy", -11).text("2");
legendTitle.append("tspan").attr("dy", 11).text(")");

const rowY = d3.scaleBand().domain(d3.range(legendFrom.length)).range([240, 410]).paddingInner(0);
legendFrom.forEach((from, i) => {
  const top = rowY(i) + 2;
  legend.append("rect")
    .attr("x", 120).attr("y", top)
    .attr("width", 28.5).attr("height", 28)
    .attr("fill", classColors[[DARK, LIGHT, YELLOW, ORANGE, RED][i]]);
  [[170.5, from], [221.5, "to"], [257, legendTo[i]]].forEach((t) => {
    legend.append("text")
      .attr("x", t[0]).attr("y", top + 23)
      .attr("font-family", tickFont)
      .attr("font-size", 25)
      .text(t[1]);
  });
});
</script>
</body>
</html>
